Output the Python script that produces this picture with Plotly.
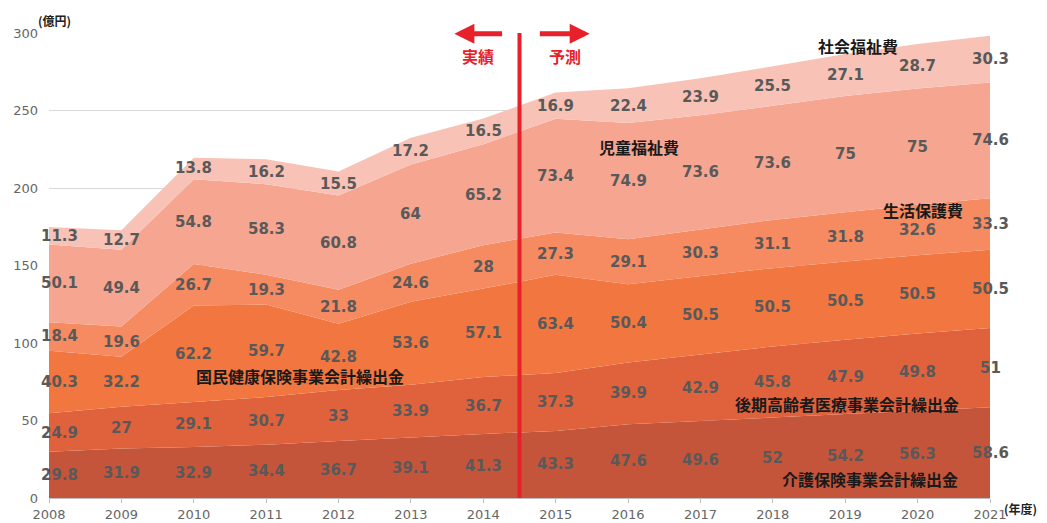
import plotly.graph_objects as go
import numpy as np

years = list(range(2008, 2022))
kaigo = [29.8, 31.9, 32.9, 34.4, 36.7, 39.1, 41.3, 43.3, 47.6, 49.6, 52, 54.2, 56.3, 58.6]
kouki = [24.9, 27, 29.1, 30.7, 33, 33.9, 36.7, 37.3, 39.9, 42.9, 45.8, 47.9, 49.8, 51]
kokuho = [40.3, 32.2, 62.2, 59.7, 42.8, 53.6, 57.1, 63.4, 50.4, 50.5, 50.5, 50.5, 50.5, 50.5]
seiho = [18.4, 19.6, 26.7, 19.3, 21.8, 24.6, 28, 27.3, 29.1, 30.3, 31.1, 31.8, 32.6, 33.3]
jidou = [50.1, 49.4, 54.8, 58.3, 60.8, 64, 65.2, 73.4, 74.9, 73.6, 73.6, 75, 75, 74.6]
shakai = [11.3, 12.7, 13.8, 16.2, 15.5, 17.2, 16.5, 16.9, 22.4, 23.9, 25.5, 27.1, 28.7, 30.3]

names = ["介護保険事業会計繰出金", "後期高齢者医療事業会計繰出金", "国民健康保険事業会計繰出金",
         "生活保護費", "児童福祉費", "社会福祉費"]
series = [kaigo, kouki, kokuho, seiho, jidou, shakai]
colors = ["#c4553b", "#e0623c", "#f2763f", "#f68a60", "#f6a591", "#f8c3b6"]

# name label positions (year, value)
name_pos = [(2019.34, 12.3), (2019.02, 60.6), (2011.47, 78.7), (2020.07, 185.5), (2016.15, 226.5), (2019.17, 291.8)]

fig = go.Figure()
for nm, s, c in zip(names, series, colors):
    fig.add_trace(go.Scatter(x=years, y=s, name=nm, stackgroup="one", mode="lines",
                             line=dict(width=0, color=c), fillcolor=c, hoverinfo="skip"))

bottom = np.zeros(len(years))
ann = []
for s in series:
    arr = np.array(s, dtype=float)
    mid = bottom + arr / 2
    for i, yv in enumerate(years):
        ann.append(dict(x=yv, y=mid[i], text=f"{s[i]:g}", showarrow=False,
                        xshift=10 if i == 0 else 0,
                        font=dict(family="DejaVu Sans", size=15, color="#595959", weight="bold")))
    bottom = bottom + arr

for nm, (px, py) in zip(names, name_pos):
    ann.append(dict(x=px, y=py, text=nm, showarrow=False,
                    font=dict(family="Noto Sans CJK JP", size=16, color="#1a1a1a", weight="bold")))

red = "#e8202a"
ann.append(dict(x=2013.6, y=299.5, ax=2014.28, ay=299.5, axref="x", ayref="y", xref="x", yref="y",
                showarrow=True, arrowhead=2, arrowsize=0.8, arrowwidth=5, arrowcolor=red, text=""))
ann.append(dict(x=2015.47, y=299.5, ax=2014.76, ay=299.5, axref="x", ayref="y", xref="x", yref="y",
                showarrow=True, arrowhead=2, arrowsize=0.8, arrowwidth=5, arrowcolor=red, text=""))
ann.append(dict(x=2013.93, y=285, text="実績", showarrow=False,
                font=dict(family="Noto Sans CJK JP", size=16, color=red, weight="bold")))
ann.append(dict(x=2015.13, y=285, text="予測", showarrow=False,
                font=dict(family="Noto Sans CJK JP", size=16, color=red, weight="bold")))
ann.append(dict(x=0, y=1.0, xref="paper", yref="paper", xanchor="left", yanchor="bottom", xshift=-13, yshift=2,
                text="(億円)", showarrow=False,
                font=dict(family="Noto Sans CJK JP", size=12, color="#222222", weight="bold")))
ann.append(dict(x=1.0, y=0, xref="paper", yref="paper", xanchor="left", yanchor="middle", xshift=12, yshift=-10,
                text="(年度)", showarrow=False,
                font=dict(family="Noto Sans CJK JP", size=12, color="#222222", weight="bold")))

fig.add_shape(type="line", x0=2014.5, x1=2014.5, y0=0, y1=300, xref="x", yref="y",
              line=dict(color=red, width=4))

fig.update_layout(
    width=1047, height=523,
    margin=dict(l=41, r=65, t=25, b=33),
    paper_bgcolor="white", plot_bgcolor="white",
    showlegend=False,
    annotations=ann,
    xaxis=dict(range=[2008, 2021], tickmode="array", tickvals=years, ticktext=[str(y) for y in years],
               automargin=False,
               showgrid=False, showline=True, linecolor="#bfbfbf", ticks="outside", tickcolor="#bfbfbf",
               ticklen=4, ticklabelstandoff=0,
               tickfont=dict(family="DejaVu Sans", size=13, color="#666666")),
    yaxis=dict(range=[0, 300], tickvals=[0, 50, 100, 150, 200, 250, 300], showgrid=True,
               automargin=False,
               gridcolor="#d9d9d9", gridwidth=1, zeroline=False, showline=False, ticklabelstandoff=10,
               tickfont=dict(family="DejaVu Sans", size=13, color="#666666")),
)

fig.write_html("out.html")
